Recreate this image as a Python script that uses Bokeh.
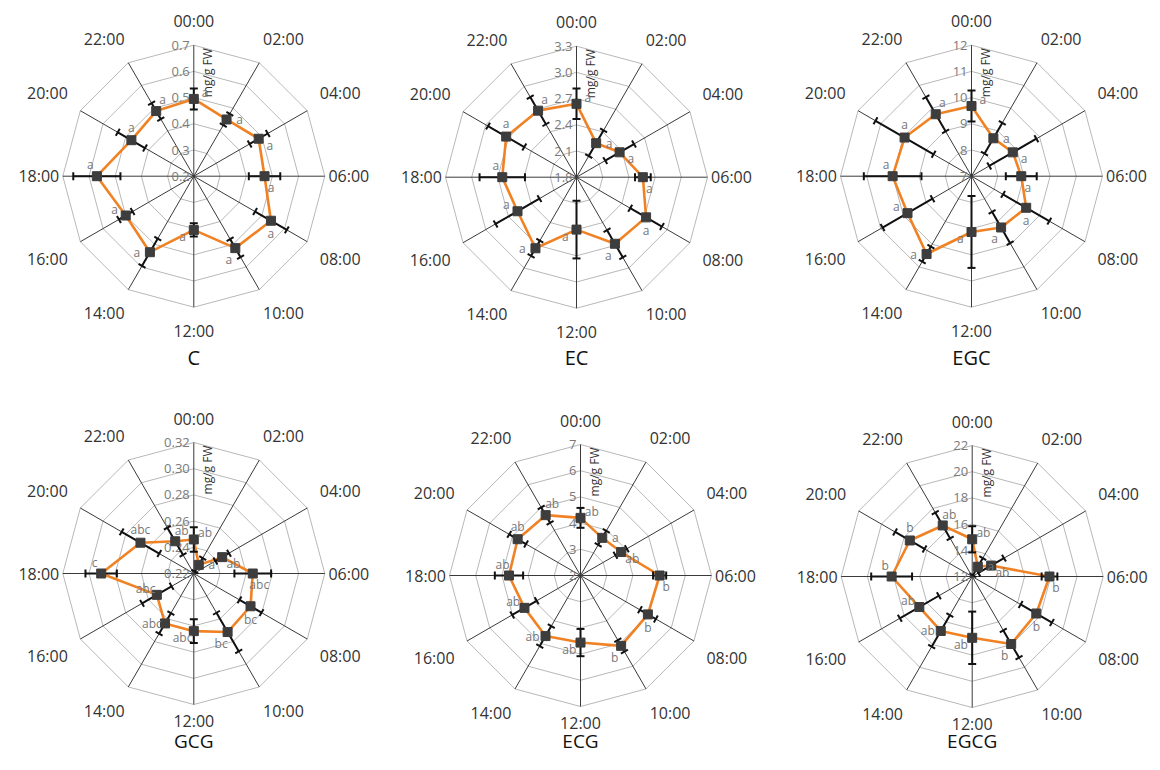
import math
from bokeh.plotting import figure
from bokeh.models import Range1d
from bokeh.embed import file_html
from bokeh.resources import INLINE
from bokeh.core.properties import value

# ---------------- data ----------------
times = ["00:00", "02:00", "04:00", "06:00", "08:00", "10:00",
         "12:00", "14:00", "16:00", "18:00", "20:00", "22:00"]

compounds = ["C", "EC", "EGC", "GCG", "ECG", "EGCG"]

C_mean = [0.495, 0.45, 0.486, 0.47, 0.54, 0.517, 0.405, 0.535, 0.50, 0.57, 0.475, 0.487]
C_err = [0.04, 0.025, 0.04, 0.06, 0.07, 0.04, 0.025, 0.06, 0.03, 0.09, 0.06, 0.035]
C_letters = ["a"] * 12
C_ticks = [0.2, 0.3, 0.4, 0.5, 0.6, 0.7]
C_tick_labels = ["0.2", "0.3", "0.4", "0.5", "0.6", "0.7"]

EC_mean = [2.64, 2.25, 2.37, 2.56, 2.72, 2.68, 2.40, 2.74, 2.58, 2.65, 2.73, 2.68]
EC_err = [0.175, 0.17, 0.19, 0.09, 0.21, 0.18, 0.33, 0.10, 0.29, 0.26, 0.24, 0.18]
EC_letters = ["a"] * 12
EC_ticks = [1.8, 2.1, 2.4, 2.7, 3.0, 3.3]
EC_tick_labels = ["1.8", "2.1", "2.4", "2.7", "3.0", "3.3"]

EGC_mean = [9.68, 8.67, 8.82, 8.90, 9.41, 9.26, 9.13, 10.43, 9.82, 10.01, 9.95, 9.73]
EGC_err = [0.59, 0.68, 1.04, 0.59, 1.02, 0.69, 1.37, 0.33, 1.10, 1.10, 1.28, 0.75]
EGC_letters = ["a"] * 12
EGC_ticks = [7, 8, 9, 10, 11, 12]
EGC_tick_labels = ["7", "8", "9", "10", "11", "12"]

GCG_mean = [0.246, 0.2276, 0.245, 0.265, 0.270, 0.2716, 0.264, 0.264, 0.2526, 0.2907, 0.267, 0.2484]
GCG_err = [0.0094, 0.006, 0.006, 0.014, 0.0097, 0.017, 0.009, 0.009, 0.013, 0.012, 0.0166, 0.012]
GCG_letters = ["ab", "a", "ab", "abc", "bc", "bc", "abc", "abc", "abc", "c", "abc", "ab"]
GCG_ticks = [0.22, 0.24, 0.26, 0.28, 0.30, 0.32]
GCG_tick_labels = ["0.22", "0.24", "0.26", "0.28", "0.30", "0.32"]

ECG_mean = [4.20, 3.66, 3.79, 5.02, 4.97, 5.10, 4.56, 4.67, 4.47, 4.73, 4.77, 4.66]
ECG_err = [0.38, 0.31, 0.25, 0.25, 0.35, 0.25, 0.52, 0.44, 0.54, 0.54, 0.37, 0.34]
ECG_letters = ["ab", "a", "ab", "b", "b", "b", "ab", "ab", "ab", "ab", "ab", "ab"]
ECG_ticks = [2, 3, 4, 5, 6, 7]
ECG_tick_labels = ["2", "3", "4", "5", "6", "7"]

EGCG_mean = [14.84, 12.86, 13.67, 17.90, 17.65, 17.95, 16.68, 16.80, 16.66, 18.15, 17.50, 16.50]
EGCG_err = [1.0, 0.75, 1.13, 0.6, 1.38, 1.2, 2.0, 1.39, 1.72, 1.56, 1.3, 1.14]
EGCG_letters = ["ab", "a", "ab", "b", "b", "b", "ab", "ab", "ab", "b", "b", "ab"]
EGCG_ticks = [12, 14, 16, 18, 20, 22]
EGCG_tick_labels = ["12", "14", "16", "18", "20", "22"]

unit_label = "mg/g FW"

series = {
    "C": (C_mean, C_err, C_letters, C_ticks, C_tick_labels),
    "EC": (EC_mean, EC_err, EC_letters, EC_ticks, EC_tick_labels),
    "EGC": (EGC_mean, EGC_err, EGC_letters, EGC_ticks, EGC_tick_labels),
    "GCG": (GCG_mean, GCG_err, GCG_letters, GCG_ticks, GCG_tick_labels),
    "ECG": (ECG_mean, ECG_err, ECG_letters, ECG_ticks, ECG_tick_labels),
    "EGCG": (EGCG_mean, EGCG_err, EGCG_letters, EGCG_ticks, EGCG_tick_labels),
}

# ---------------- layout (picture pixel centres) ----------------
centers = {
    "C": (193.3, 175.7), "EC": (576.0, 176.7), "EGC": (971.0, 175.7),
    "GCG": (193.3, 573.0), "ECG": (580.0, 575.0), "EGCG": (971.7, 576.0),
}
title_pos = {"C": (357, "middle", "20px"), "EC": (357, "middle", "20px"),
             "EGC": (357, "middle", "20px"),
             "GCG": (753, "bottom", "19px"), "ECG": (753, "bottom", "19px"),
             "EGCG": (753, "bottom", "19px")}
R = 131.0
FONT = value("Open Sans")
ORANGE = "#F08224"
W, H = 1152, 754

p = figure(width=W, height=H, x_range=Range1d(0, W), y_range=Range1d(-H, 0),
           output_backend="svg", toolbar_location=None, min_border=0,
           x_axis_type=None, y_axis_type=None)
p.grid.visible = False
p.outline_line_color = None
p.background_fill_color = "white"
p.border_fill_color = "white"

n = len(times)
angles = [i * 2 * math.pi / n for i in range(n)]


def pt(cx, cy, r, th):
    # picture coords -> data coords (y negated)
    return cx + r * math.sin(th), -(cy - r * math.cos(th))


for name in compounds:
    mean, err, letters, ticks, tick_labels = series[name]
    cx, cy = centers[name]
    vmin, vmax = ticks[0], ticks[-1]

    def rad(v):
        return (v - vmin) / (vmax - vmin) * R

    # rings
    rxs, rys = [], []
    for t in ticks[1:]:
        xs, ys = [], []
        for th in angles + [angles[0]]:
            x, y = pt(cx, cy, rad(t), th)
            xs.append(x); ys.append(y)
        rxs.append(xs); rys.append(ys)
    p.multi_line(rxs, rys, line_color="#b8b8b8", line_width=1)

    # spokes
    sxs, sys_ = [], []
    for th in angles:
        x, y = pt(cx, cy, R, th)
        sxs.append([cx, x]); sys_.append([-cy, y])
    p.multi_line(sxs, sys_, line_color="#3a3a3a", line_width=1)

    # tick labels
    tx = [cx - 4] * len(ticks)
    ty = [-(cy - rad(t)) for t in ticks]
    p.text(tx, ty, text=tick_labels, text_font=FONT, text_font_size="13px",
           text_color="#7a7a7a", text_align="right", text_baseline="middle")

    # unit label
    p.text([cx + 14], [-(cy - R + 3)], text=[unit_label], angle=math.pi / 2,
           text_font=FONT, text_font_size="12px", text_color="#333333",
           text_align="right", text_baseline="middle")

    # time labels
    lx, ly = [], []
    for th in angles:
        s, c = math.sin(th), math.cos(th)
        rr = 155 if (c > -0.99 or cy < 400) else 147
        lx.append(min(cx + rr * s + 28 * s * abs(c), W - 23))
        ly.append(-(cy - (rr * c + 14 * c * s * s)))
    p.text(lx, ly, text=times, text_font=FONT, text_font_size="16px",
           text_color="#333333", text_align="center", text_baseline="middle")

    # title
    ty_, tb, tfs = title_pos[name]
    p.text([cx], [-ty_], text=[name], text_font=FONT,
           text_font_size=tfs, text_color="#111111", text_align="center",
           text_baseline=tb)

    # data line
    px, py = [], []
    for v, th in zip(mean, angles):
        x, y = pt(cx, cy, rad(v), th)
        px.append(x); py.append(y)
    p.line(px + [px[0]], py + [py[0]], line_color=ORANGE, line_width=2.6)

    # error bars
    x0, y0, x1, y1 = [], [], [], []
    for v, e, th in zip(mean, err, angles):
        a = pt(cx, cy, rad(v - e), th)
        b = pt(cx, cy, rad(v + e), th)
        x0.append(a[0]); y0.append(a[1]); x1.append(b[0]); y1.append(b[1])
        for end in (a, b):
            ux, uy = math.cos(th), math.sin(th)
            x0.append(end[0] - 4 * ux); y0.append(end[1] + 4 * uy)
            x1.append(end[0] + 4 * ux); y1.append(end[1] - 4 * uy)
    p.segment(x0, y0, x1, y1, line_color="#111111", line_width=2)

    # markers
    p.scatter(px, py, marker="square", size=9, fill_color="#3d3d3d", line_color="#3d3d3d")

    # significance letters
    ax, ay = [], []
    for x, y, th in zip(px, py, angles):
        ph = th + math.pi / 3
        ax.append(x + 13 * math.sin(ph)); ay.append(y + 13 * math.cos(ph))
    p.text(ax, ay, text=letters, text_font=FONT, text_font_size="12px",
           text_color="#777777", text_align="center", text_baseline="middle")

open("out.html", "w").write(file_html(p, INLINE))
